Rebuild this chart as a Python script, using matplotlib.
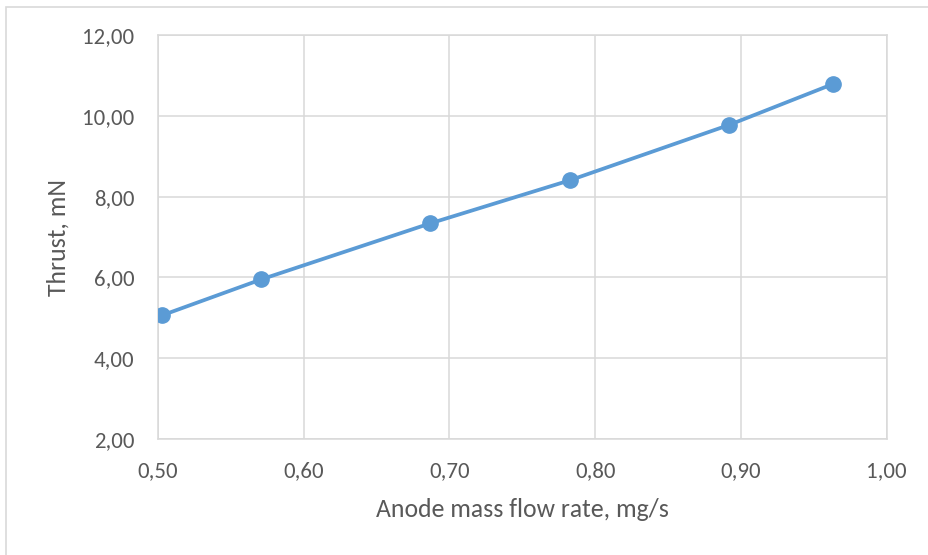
import matplotlib
matplotlib.use("Agg")
import matplotlib.pyplot as plt
from matplotlib.ticker import FuncFormatter, MultipleLocator
from matplotlib.patches import Rectangle

# Anode mass flow rate (mg/s) and measured thrust (mN)
flow_rate = [0.503, 0.571, 0.687, 0.783, 0.892, 0.963]
thrust = [5.06, 5.95, 7.34, 8.41, 9.78, 10.79]

x_label = "Anode mass flow rate, mg/s"
y_label = "Thrust, mN"

plt.rcParams["font.family"] = ["Carlito", "Lato", "DejaVu Sans"]

text_color = "#595959"
grid_color = "#D9D9D9"
line_color = "#5B9BD5"

fig = plt.figure(figsize=(9.29, 5.55), dpi=100)
# chart-area frame (left and top edges fall inside the canvas)
fig.patches.append(Rectangle((6.5 / 929, -0.1), 1.2, 1.1 - 6.5 / 555,
                             transform=fig.transFigure, fill=False,
                             edgecolor=grid_color, linewidth=1.2))

ax = fig.add_axes([0.1698, 0.2094, 0.9545 - 0.1698, 0.9364 - 0.2094])

ax.plot(flow_rate, thrust, color=line_color, linewidth=2.7,
        marker="o", markersize=11, markerfacecolor=line_color,
        markeredgecolor=line_color, zorder=3)

ax.set_xlim(0.5, 1.0)
ax.set_ylim(2.0, 12.0)
ax.xaxis.set_major_locator(MultipleLocator(0.1))
ax.yaxis.set_major_locator(MultipleLocator(2.0))

comma = FuncFormatter(lambda v, _: f"{v:.2f}".replace(".", ","))
ax.xaxis.set_major_formatter(comma)
ax.yaxis.set_major_formatter(comma)

ax.grid(True, color=grid_color, linewidth=1.1)
ax.set_axisbelow(True)
for s in ax.spines.values():
    s.set_color(grid_color)
    s.set_linewidth(1.1)

ax.tick_params(axis="both", length=0, labelsize=16.5, colors=text_color)
ax.tick_params(axis="x", pad=16)
ax.tick_params(axis="y", pad=17)

ax.set_xlabel(x_label, fontsize=18.5, color=text_color, labelpad=12)
ax.set_ylabel(y_label, fontsize=18.5, color=text_color, labelpad=9)

fig.savefig("out.png", dpi=100)
